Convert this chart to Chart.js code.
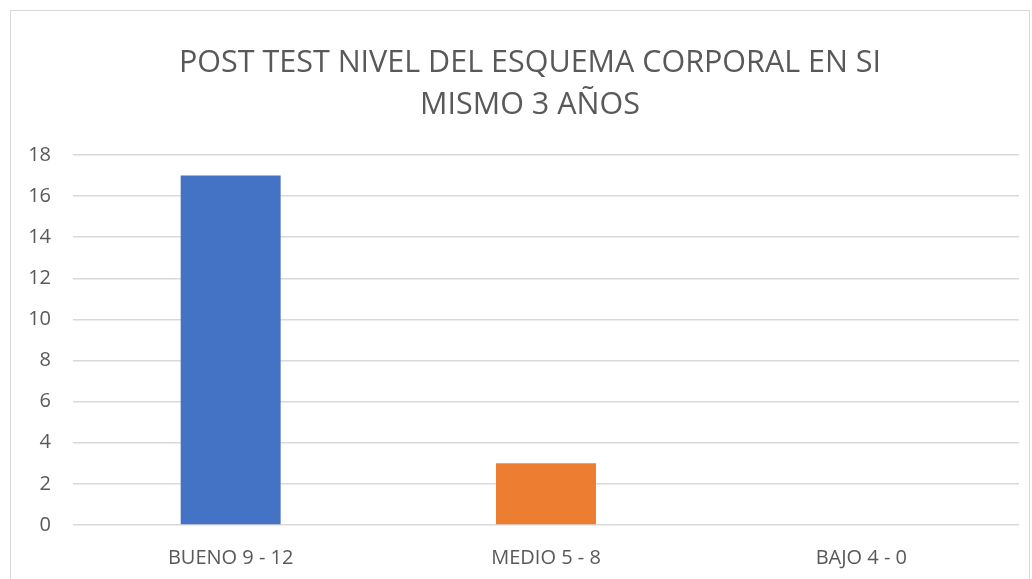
<!DOCTYPE html>
<html>
<head>
<meta charset="utf-8">
<script src="https://cdn.jsdelivr.net/npm/chart.js@4.4.1/dist/chart.umd.min.js"></script>
<style>
  html, body { margin: 0; padding: 0; background: #fff; }
  body { width: 1032px; height: 579px; position: relative; overflow: hidden; }
  .frame { position: absolute; left: 10px; top: 10px; width: 1020px; height: 600px; border: 1px solid #d9d9d9; box-sizing: border-box; }
  #wrap { position: absolute; left: 0; top: 0; width: 1032px; height: 579px; }
</style>
</head>
<body>
<div class="frame"></div>
<div id="wrap"><canvas id="chart"></canvas></div>
<script>
/* data */
const categories = ['BUENO 9 - 12', 'MEDIO 5 - 8', 'BAJO 4 - 0'];
const values     = [17, 3, 0];
const barColors  = ['#4472C4', '#ED7D31', '#A5A5A5'];
const titleLines = ['POST TEST NIVEL DEL ESQUEMA CORPORAL EN SI', 'MISMO 3 AÑOS'];

const FONT = "'Open Sans', 'Noto Sans', sans-serif";
const GREY = '#595959';

// title sits a bit right of canvas centre in the original
const shiftTitle = {
  id: 'shiftTitle',
  afterLayout(chart) { if (chart.titleBlock) chart.titleBlock.left = 41; }
};

new Chart(document.getElementById('chart'), {
  type: 'bar',
  data: {
    labels: categories,
    datasets: [{ data: values, backgroundColor: barColors, categoryPercentage: 1, barPercentage: 0.317 }]
  },
  options: {
    responsive: true,
    maintainAspectRatio: false,
    animation: false,
    layout: { padding: { left: 0, right: 13, top: 0, bottom: 0 } },
    plugins: {
      legend: { display: false },
      tooltip: { enabled: false },
      title: {
        display: true,
        text: titleLines,
        color: GREY,
        font: { family: FONT, size: 30.5, weight: 'normal', lineHeight: 1.377 },
        padding: { top: 42, bottom: 29 }
      }
    },
    scales: {
      x: {
        grid: { display: false },
        border: { display: false },
        ticks: { color: GREY, font: { family: FONT, size: 20 }, padding: 13 },
        afterFit: s => { s.height = 54; }
      },
      y: {
        min: 0, max: 18,
        ticks: { stepSize: 2, color: GREY, font: { family: FONT, size: 20 }, padding: 22 },
        grid: { color: '#d9d9d9', lineWidth: 1.5, drawTicks: false },
        border: { display: false },
        afterFit: s => { s.width = 73; }
      }
    }
  },
  plugins: [shiftTitle]
});
</script>
</body>
</html>
